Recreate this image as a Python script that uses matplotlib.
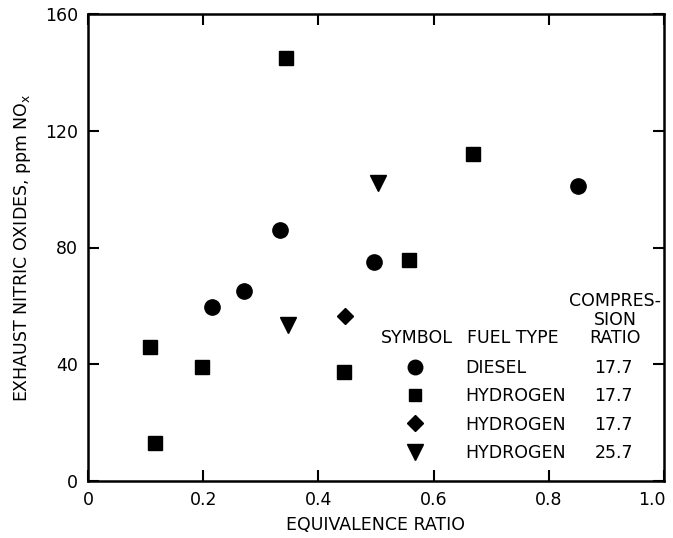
import matplotlib
matplotlib.use("Agg")
import matplotlib.pyplot as plt
from matplotlib.lines import Line2D
from matplotlib.transforms import ScaledTranslation

plt.rcParams['font.family'] = ['DejaVu Sans']

# data
diesel_x = [0.216, 0.270, 0.334, 0.496, 0.850]
diesel_y = [59.5, 65, 86, 75, 101]
h2_sq_x = [0.108, 0.117, 0.198, 0.343, 0.445, 0.558, 0.668]
h2_sq_y = [46, 13, 39, 145, 37.5, 75.6, 112]
h2_dia_x = [0.447]
h2_dia_y = [56.7]
h2_tri_x = [0.348, 0.503]
h2_tri_y = [53.6, 102]

fuel_types = ['DIESEL', 'HYDROGEN', 'HYDROGEN', 'HYDROGEN']
ratios = ['17.7', '17.7', '17.7', '25.7']

xticks = [0, 0.2, 0.4, 0.6, 0.8, 1.0]
xticklabels = ['0', '0.2', '0.4', '0.6', '0.8', '1.0']
yticks = [0, 40, 80, 120, 160]

fs = 12.5

fig = plt.figure(figsize=(6.73, 5.38), dpi=100)
ax = fig.add_axes([88/673, 1 - 481/538, (664-88)/673, (481-14)/538])

h1, = ax.plot(diesel_x, diesel_y, 'o', color='black', ms=11)
h2, = ax.plot(h2_sq_x, h2_sq_y, 's', color='black', ms=9.5)
h3, = ax.plot(h2_dia_x, h2_dia_y, 'D', color='black', ms=8.5)
h4, = ax.plot(h2_tri_x, h2_tri_y, 'v', color='black', ms=12)

ax.set_xlim(0, 1.0)
ax.set_ylim(0, 160)
ax.set_xticks(xticks)
ax.set_xticklabels(xticklabels)
ax.set_yticks(yticks)
ax.tick_params(direction='in', length=8, width=1.5, labelsize=fs, pad=7,
               top=True, right=True)
for s in ax.spines.values():
    s.set_linewidth(1.8)

# pull the last x label in so it stays on the canvas
last = ax.get_xticklabels()[-1]
last.set_transform(last.get_transform() + ScaledTranslation(-9/72, 0, fig.dpi_scale_trans))

ax.set_xlabel('EQUIVALENCE RATIO', fontsize=fs, labelpad=5)
ax.set_ylabel(r'EXHAUST NITRIC OXIDES, ppm NO$_\mathregular{x}$', fontsize=fs, labelpad=9)

# legend as a small table
leg1 = ax.legend([h1, h2, h3, h4], fuel_types, loc='upper left',
                 bbox_to_anchor=(0.537, 0.2805), bbox_transform=ax.transAxes,
                 frameon=False, fontsize=fs, borderpad=0, handlelength=1.0,
                 handletextpad=2.4, labelspacing=0.6, markerscale=0.95)
ax.add_artist(leg1)
blank = [Line2D([], [], ls='none') for _ in ratios]
ax.legend(blank, ratios, loc='upper left',
          bbox_to_anchor=(0.864, 0.2805), bbox_transform=ax.transAxes,
          frameon=False, fontsize=fs, borderpad=0, handlelength=0,
          handletextpad=0, labelspacing=0.6)

hy = (481 - 338) / 467
ax.text((417-88)/576, hy, 'SYMBOL', transform=ax.transAxes, fontsize=fs,
        ha='center', va='center')
ax.text((467-88)/576, hy, 'FUEL TYPE', transform=ax.transAxes, fontsize=fs,
        ha='left', va='center')
ax.text((615-88)/576, hy - 0.02, 'COMPRES-\nSION\nRATIO', transform=ax.transAxes,
        fontsize=fs, ha='center', va='bottom', multialignment='center',
        linespacing=1.05)

fig.savefig('out.png', dpi=100)
